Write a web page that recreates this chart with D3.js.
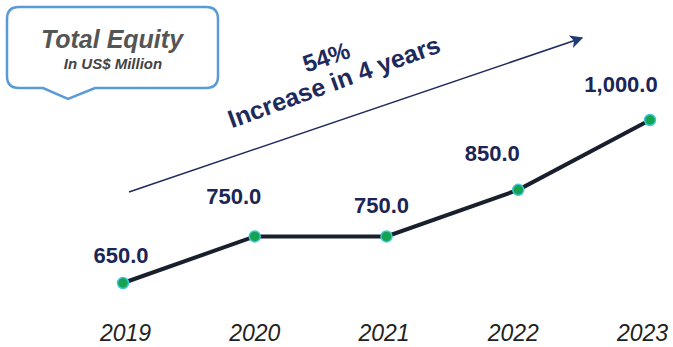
<!DOCTYPE html>
<html lang="en">
<head>
  <meta charset="UTF-8">
  <title>Total Equity</title>
  <style>
    body { margin: 0; background: #fff; }
    .chart text { font-family: "Liberation Sans", Arial, sans-serif; }
    .value-label { fill: #1b2556; font-size: 22px; font-weight: bold; text-anchor: middle; }
    .axis text { fill: #222; font-size: 23px; font-style: italic; }
    .note { fill: #1f2a5c; font-weight: bold; text-anchor: middle; }
  </style>
</head>
<body>
  <svg class="chart"></svg>
  <script src="https://cdn.jsdelivr.net/npm/d3@7"></script>
  <script>
    // data
    var years = ["2019", "2020", "2021", "2022", "2023"];
    var equity = [650, 750, 750, 850, 1000];
    var valueLabels = ["650.0", "750.0", "750.0", "850.0", "1,000.0"];

    // label nudges (layout only)
    var labelDx = [-2, -21, -5, -26, -29];
    var labelDy = [-20, -32, -23, -29, -28];

    var width = 673, height = 347;

    var svg = d3.select(".chart")
      .attr("width", width)
      .attr("height", height);

    var x = d3.scalePoint()
      .domain(years)
      .range([123, 650]);

    // year labels sit a little inside the points
    var xAxisScale = d3.scalePoint()
      .domain(years)
      .range([125, 642]);

    var y = d3.scaleLinear()
      .domain([650, 1000])
      .range([283, 120]);

    // callout box with pointer
    var bx0 = 7, bx1 = 218, by0 = 7, by1 = 88, r = 12;
    var callout = d3.path();
    callout.moveTo(bx0 + r, by0);
    callout.lineTo(bx1 - r, by0);
    callout.quadraticCurveTo(bx1, by0, bx1, by0 + r);
    callout.lineTo(bx1, by1 - r);
    callout.quadraticCurveTo(bx1, by1, bx1 - r, by1);
    callout.lineTo(95, by1);
    callout.lineTo(68, 99);
    callout.lineTo(43, by1);
    callout.lineTo(bx0 + r, by1);
    callout.quadraticCurveTo(bx0, by1, bx0, by1 - r);
    callout.lineTo(bx0, by0 + r);
    callout.quadraticCurveTo(bx0, by0, bx0 + r, by0);
    callout.closePath();

    svg.append("path")
      .attr("d", callout.toString())
      .attr("fill", "#fff")
      .attr("stroke", "#5b9bd5")
      .attr("stroke-width", 2.5);

    svg.append("text")
      .attr("x", 112).attr("y", 48)
      .attr("text-anchor", "middle")
      .style("font-size", "25px").style("font-weight", "bold").style("font-style", "italic")
      .attr("fill", "#555")
      .text("Total Equity");

    svg.append("text")
      .attr("x", 113).attr("y", 69)
      .attr("text-anchor", "middle")
      .style("font-size", "15px").style("font-weight", "bold").style("font-style", "italic")
      .attr("fill", "#444")
      .text("In US$ Million");

    // growth arrow
    svg.append("defs").append("marker")
      .attr("id", "head")
      .attr("viewBox", "0 0 10 10")
      .attr("refX", 9).attr("refY", 5)
      .attr("markerWidth", 15).attr("markerHeight", 13)
      .attr("markerUnits", "userSpaceOnUse")
      .attr("orient", "auto")
      .append("path")
      .attr("d", "M0,0L10,5L0,10L2.5,5Z")
      .attr("fill", "#1f3b73");

    svg.append("line")
      .attr("x1", 129).attr("y1", 192)
      .attr("x2", 582).attr("y2", 38)
      .attr("stroke", "#1f2a5c")
      .attr("stroke-width", 1.5)
      .attr("marker-end", "url(#head)");

    svg.append("text")
      .attr("class", "note")
      .attr("transform", "translate(329,65) rotate(-19)")
      .style("font-size", "24px")
      .text("54%");

    svg.append("text")
      .attr("class", "note")
      .attr("transform", "translate(337,90) rotate(-20)")
      .style("font-size", "25px")
      .text("Increase in 4 years");

    // x axis (labels only)
    svg.append("g")
      .attr("class", "axis")
      .attr("transform", "translate(0,318)")
      .call(d3.axisBottom(xAxisScale).tickSize(0).tickPadding(0))
      .call(function(g) { g.select(".domain").remove(); })
      .selectAll("text")
      .attr("dy", "1em")
      .style("font-family", "'Liberation Sans', Arial, sans-serif");

    var pts = years.map(function(d, i) { return {year: d, value: equity[i], label: valueLabels[i], i: i}; });

    var line = d3.line()
      .x(function(d) { return x(d.year); })
      .y(function(d) { return y(d.value); });

    svg.append("path")
      .datum(pts)
      .attr("d", line)
      .attr("fill", "none")
      .attr("stroke", "#1a1f2e")
      .attr("stroke-width", 4);

    svg.selectAll("circle.pt")
      .data(pts)
      .enter().append("circle")
      .attr("class", "pt")
      .attr("cx", function(d) { return x(d.year); })
      .attr("cy", function(d) { return y(d.value); })
      .attr("r", 5.5)
      .attr("fill", "#16a350")
      .attr("stroke", "#3fc6d8")
      .attr("stroke-width", 1.5);

    svg.selectAll("text.value-label")
      .data(pts)
      .enter().append("text")
      .attr("class", "value-label")
      .attr("x", function(d) { return x(d.year) + labelDx[d.i]; })
      .attr("y", function(d) { return y(d.value) + labelDy[d.i]; })
      .text(function(d) { return d.label; });
  </script>
</body>
</html>
